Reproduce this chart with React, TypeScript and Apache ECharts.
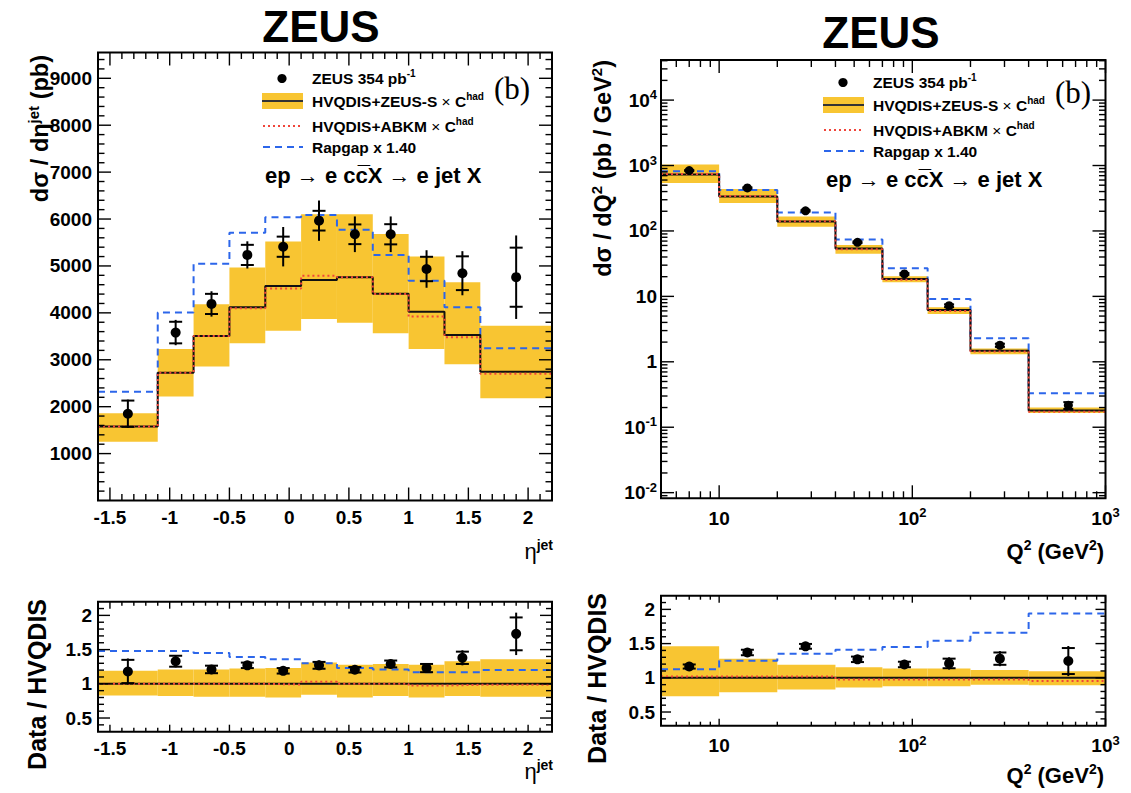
import React, { useEffect, useRef } from 'react';
import * as echarts from 'echarts';

// ---------- eta^jet panel data ----------
const ETA_EDGES = [-1.6, -1.1, -0.8, -0.5, -0.2, 0.1, 0.4, 0.7, 1.0, 1.3, 1.6, 2.2];
const ETA_CENTERS = [-1.35, -0.95, -0.65, -0.35, -0.05, 0.25, 0.55, 0.85, 1.15, 1.45, 1.9];
const ETA_DATA = [1850, 3580, 4190, 5235, 5410, 5965, 5675, 5675, 4935, 4845, 4760];
const ETA_STAT = [280, 230, 215, 215, 215, 210, 210, 215, 260, 360, 630];
const ETA_TOT = [300, 270, 270, 290, 420, 430, 380, 380, 400, 470, 890];
const ETA_ZEUSS = [1575, 2725, 3505, 4120, 4575, 4700, 4760, 4405, 4025, 3530, 2745];
const ETA_ABKM = [1580, 2725, 3505, 4100, 4520, 4790, 4760, 4400, 3920, 3480, 2700];
const ETA_BAND_LO = [1255, 2215, 2855, 3350, 3620, 3870, 3790, 3565, 3230, 2905, 2180];
const ETA_BAND_HI = [1860, 3230, 4185, 4965, 5520, 6100, 6100, 5680, 5200, 4650, 3725];
const ETA_RAPGAP = [2320, 4005, 5045, 5710, 6040, 6085, 5770, 5235, 4685, 4120, 3245];

// ratio (eta)
const ETA_R_DATA = [1.18, 1.33, 1.21, 1.27, 1.19, 1.27, 1.205, 1.29, 1.23, 1.38, 1.73];
const ETA_R_STAT = [0.17, 0.08, 0.055, 0.04, 0.04, 0.05, 0.04, 0.05, 0.06, 0.09, 0.24];
const ETA_R_TOT = [0.19, 0.09, 0.06, 0.045, 0.05, 0.07, 0.05, 0.06, 0.07, 0.11, 0.31];
const ETA_R_BAND_LO = [0.83, 0.82, 0.81, 0.81, 0.80, 0.84, 0.80, 0.82, 0.80, 0.82, 0.81];
const ETA_R_BAND_HI = [1.19, 1.21, 1.21, 1.225, 1.23, 1.31, 1.28, 1.29, 1.28, 1.33, 1.36];
const ETA_R_ZEUSS = [1, 1, 1, 1, 1, 1, 1, 1, 1, 1, 1];
const ETA_R_ABKM = [1.0, 1.0, 1.0, 1.0, 0.99, 1.03, 1.0, 1.0, 0.975, 0.985, 0.985];
const ETA_R_RAPGAP = [1.48, 1.48, 1.45, 1.39, 1.36, 1.30, 1.23, 1.21, 1.17, 1.17, 1.20];

// ---------- Q^2 panel data ----------
const Q2_EDGES = [5, 10, 20, 40, 70, 120, 200, 400, 1000];
const Q2_CENTERS = [7, 14, 28, 52, 91, 155, 284, 642];
const Q2_DATA = [838, 454, 203, 67, 22, 7.2, 1.79, 0.216];
const Q2_STAT = [15, 10, 5, 1.8, 0.7, 0.35, 0.1, 0.026];
const Q2_TOT = [30, 22, 8, 3, 1.1, 0.55, 0.18, 0.03];
const Q2_ZEUSS = [728, 337, 139, 54, 18.5, 6.2, 1.48, 0.18];
const Q2_ABKM = [740, 343, 141, 52.5, 18, 6.0, 1.44, 0.172];
const Q2_BAND_LO = [540, 267, 116, 45, 16.4, 5.4, 1.3, 0.165];
const Q2_BAND_HI = [1035, 438, 166, 61, 20.3, 6.8, 1.6, 0.2];
const Q2_RAPGAP = [818, 423, 192, 74, 26.8, 9.1, 2.3, 0.33];

// ratio (Q^2)
const Q2_R_DATA = [1.165, 1.37, 1.46, 1.27, 1.195, 1.21, 1.28, 1.245];
const Q2_R_STAT = [0.03, 0.04, 0.035, 0.04, 0.04, 0.07, 0.09, 0.19];
const Q2_R_TOT = [0.035, 0.05, 0.04, 0.045, 0.05, 0.09, 0.11, 0.22];
const Q2_R_BAND_LO = [0.73, 0.79, 0.83, 0.86, 0.875, 0.875, 0.90, 0.89];
const Q2_R_BAND_HI = [1.46, 1.28, 1.19, 1.155, 1.135, 1.135, 1.115, 1.095];
const Q2_R_ZEUSS = [1, 1, 1, 1, 1, 1, 1, 1];
const Q2_R_ABKM = [1.02, 1.02, 1.02, 0.975, 0.975, 0.975, 0.975, 0.955];
const Q2_R_RAPGAP = [1.125, 1.25, 1.35, 1.41, 1.45, 1.54, 1.66, 1.94];

// ---------- tick labels ----------
const ETA_TICKS = [-1.5, -1, -0.5, 0, 0.5, 1, 1.5, 2];
const ETA_TICK_LABELS = ['-1.5', '-1', '-0.5', '0', '0.5', '1', '1.5', '2'];
const XS_TICKS = [1000, 2000, 3000, 4000, 5000, 6000, 7000, 8000, 9000];
const XS_TICK_LABELS = ['1000', '2000', '3000', '4000', '5000', '6000', '7000', '8000', '9000'];
const RATIO_TICKS = [0.5, 1, 1.5, 2];
const RATIO_TICK_LABELS = ['0.5', '1', '1.5', '2'];
const Q2_TICKS = [10, 100, 1000];
const Q2_TICK_LABELS = ['10', '10^2', '10^3'];
const DQ2_TICKS = [0.01, 0.1, 1, 10, 100, 1000, 10000];
const DQ2_TICK_LABELS = ['10^-2', '10^-1', '1', '10', '10^2', '10^3', '10^4'];

const FONT = "'Liberation Sans', Arial, Helvetica, sans-serif";
const YELLOW = '#f8c532';
const RED = '#f0453a';
const BLUE = '#2c66ea';
const BLACK = '#111';

// axis ranges
const ETA_RANGE = [-1.6, 2.2];
const XS_RANGE = [0, 9550];
const Q2_RANGE = [5, 1000];
const DQ2_RANGE = [0.0082, 41000];
const RATIO_RANGE = [0.3, 2.2];

function linTicks(lo: number, hi: number, step: number, majors: number[]) {
  const out: number[] = [];
  const n = Math.round((hi - lo) / step);
  for (let i = 0; i <= n; i++) {
    const v = Math.round((lo + i * step) * 1000) / 1000;
    if (v <= lo + 1e-9 || v >= hi - 1e-9) continue;
    if (majors.some((m) => Math.abs(m - v) < 1e-6)) continue;
    out.push(v);
  }
  return out;
}
function logMinor(lo: number, hi: number) {
  const out: number[] = [];
  for (let e = -3; e <= 5; e++) {
    for (let k = 2; k <= 9; k++) {
      const v = k * Math.pow(10, e);
      if (v > lo && v < hi) out.push(v);
    }
  }
  return out;
}

const toRich = (s: string) => {
  const i = s.indexOf('^');
  return i < 0 ? `{n|${s}}` : `{n|${s.slice(0, i)}}{s|${s.slice(i + 1)}}`;
};

const labelRich = {
  n: { fontSize: 19, fontWeight: 'bold', fontFamily: FONT, color: '#000', lineHeight: 24 },
  s: { fontSize: 13, fontWeight: 'bold', fontFamily: FONT, color: '#000', lineHeight: 12, verticalAlign: 'top' },
};

function axisLabel(ticks: number[], labels: string[], margin: number, isLog = false) {
  return {
    customValues: ticks,
    showMinLabel: true,
    showMaxLabel: true,
    margin,
    formatter: (v: number) => {
      const i = ticks.findIndex((t) =>
        isLog ? Math.abs(Math.log10(t) - Math.log10(v)) < 1e-6 : Math.abs(t - v) < 1e-6
      );
      return i < 0 ? '' : toRich(labels[i]);
    },
    rich: labelRich,
  };
}

const hidden = {
  axisLine: { show: false },
  axisTick: { show: false },
  splitLine: { show: false },
};

function stepData(edges: number[], vals: number[]) {
  const d = vals.map((v, i) => [edges[i], v]);
  d.push([edges[edges.length - 1], vals[vals.length - 1]]);
  return d;
}

function stepSeries(gi: number, edges: number[], vals: number[], color: string, type: any, z: number) {
  return {
    type: 'line',
    xAxisIndex: gi,
    yAxisIndex: gi,
    step: 'end',
    symbol: 'none',
    data: stepData(edges, vals),
    lineStyle: { color, width: 2, type, opacity: 1 },
    z,
    silent: true,
  };
}

function bandSeries(gi: number, edges: number[], lo: number[], hi: number[]) {
  return {
    type: 'custom',
    xAxisIndex: gi,
    yAxisIndex: gi,
    z: 1,
    silent: true,
    data: lo.map((l, i) => [edges[i], edges[i + 1], l, hi[i]]),
    encode: { x: [0, 1], y: [2, 3] },
    renderItem: (_p: any, api: any) => {
      const a = api.coord([api.value(0), api.value(3)]);
      const b = api.coord([api.value(1), api.value(2)]);
      return {
        type: 'rect',
        shape: { x: a[0], y: a[1], width: b[0] - a[0], height: b[1] - a[1] },
        style: { fill: YELLOW },
      };
    },
  };
}

function errSeries(gi: number, xs: number[], ys: number[], stat: number[], tot: number[], w: number) {
  return {
    type: 'custom',
    xAxisIndex: gi,
    yAxisIndex: gi,
    z: 6,
    silent: true,
    data: xs.map((x, i) => [x, ys[i], ys[i] - tot[i], ys[i] + tot[i], ys[i] - stat[i], ys[i] + stat[i]]),
    encode: { x: 0, y: [2, 3] },
    renderItem: (_p: any, api: any) => {
      const x = api.value(0);
      const a = api.coord([x, api.value(2)]);
      const b = api.coord([x, api.value(3)]);
      const c = api.coord([x, api.value(4)]);
      const d = api.coord([x, api.value(5)]);
      const st = { stroke: '#000', lineWidth: 2 };
      return {
        type: 'group',
        children: [
          { type: 'line', shape: { x1: a[0], y1: a[1], x2: b[0], y2: b[1] }, style: st },
          { type: 'line', shape: { x1: c[0] - w, y1: c[1], x2: c[0] + w, y2: c[1] }, style: st },
          { type: 'line', shape: { x1: d[0] - w, y1: d[1], x2: d[0] + w, y2: d[1] }, style: st },
        ],
      };
    },
  };
}

function pointSeries(gi: number, xs: number[], ys: number[], size: number) {
  return {
    type: 'scatter',
    xAxisIndex: gi,
    yAxisIndex: gi,
    symbol: 'circle',
    symbolSize: size,
    itemStyle: { color: '#000', opacity: 1 },
    data: xs.map((x, i) => [x, ys[i]]),
    z: 7,
    silent: true,
  };
}

function frameSeries(
  gi: number,
  xr: number[],
  yr: number[],
  xMaj: number[],
  xMin: number[],
  yMaj: number[],
  yMin: number[],
  L: number[]
) {
  return {
    type: 'custom',
    xAxisIndex: gi,
    yAxisIndex: gi,
    z: 20,
    silent: true,
    data: [[xr[0], yr[0]]],
    renderItem: (_p: any, api: any) => {
      const bl = api.coord([xr[0], yr[0]]);
      const tr = api.coord([xr[1], yr[1]]);
      const kids: any[] = [];
      const st = { stroke: '#000', lineWidth: 1.4 };
      const ln = (x1: number, y1: number, x2: number, y2: number) =>
        kids.push({ type: 'line', shape: { x1, y1, x2, y2 }, style: st });
      const xs: [number[], number][] = [
        [xMaj, L[0]],
        [xMin, L[1]],
      ];
      xs.forEach(([vals, len]) =>
        vals.forEach((v) => {
          const x = api.coord([v, yr[0]])[0];
          ln(x, bl[1], x, bl[1] - len);
          ln(x, tr[1], x, tr[1] + len);
        })
      );
      const ys: [number[], number][] = [
        [yMaj, L[2]],
        [yMin, L[3]],
      ];
      ys.forEach(([vals, len]) =>
        vals.forEach((v) => {
          const y = api.coord([xr[0], v])[1];
          ln(bl[0], y, bl[0] + len, y);
          ln(tr[0], y, tr[0] - len, y);
        })
      );
      kids.push({
        type: 'rect',
        shape: { x: bl[0], y: tr[1], width: tr[0] - bl[0], height: bl[1] - tr[1] },
        style: { fill: 'none', stroke: '#000', lineWidth: 2 },
      });
      return { type: 'group', children: kids };
    },
  };
}

// ---------- graphic helpers ----------
function richText(size: number, supSize: number, lh: number, supLh: number, weight = 'bold') {
  return {
    n: { fontSize: size, fontWeight: weight, fontFamily: FONT, fill: '#000', lineHeight: lh },
    s: { fontSize: supSize, fontWeight: weight, fontFamily: FONT, fill: '#000', lineHeight: supLh, verticalAlign: 'top' },
    x: { fontSize: size, fontWeight: 'normal', fontFamily: FONT, fill: '#000', lineHeight: lh },
  };
}

function gtext(x: number, y: number, text: string, rich: any, align = 'left', rotation = 0) {
  return {
    type: 'text',
    x,
    y,
    rotation,
    z: 50,
    silent: true,
    style: {
      text,
      rich,
      align,
      textAlign: align,
      verticalAlign: 'middle',
      textVerticalAlign: 'middle',
    },
  };
}

function legend(ox: number, oy: number) {
  const r15 = richText(15.5, 10, 20, 9);
  return [
    { type: 'circle', shape: { cx: ox + 282, cy: oy + 78.5, r: 4.6 }, style: { fill: '#000' }, z: 50 },
    gtext(ox + 312, oy + 78.5, '{n|ZEUS 354 pb}{s|-1}', r15),
    { type: 'rect', shape: { x: ox + 262, y: oy + 93, width: 41, height: 16 }, style: { fill: YELLOW }, z: 50 },
    { type: 'line', shape: { x1: ox + 262, y1: oy + 101, x2: ox + 303, y2: oy + 101 }, style: { stroke: '#333', lineWidth: 2 }, z: 51 },
    gtext(ox + 312, oy + 101, '{n|HVQDIS+ZEUS-S }{x|×}{n| C}{s|had}', r15),
    { type: 'line', shape: { x1: ox + 263, y1: oy + 126, x2: ox + 303, y2: oy + 126 }, style: { stroke: RED, lineWidth: 2, lineDash: [2, 3] }, z: 50 },
    gtext(ox + 312, oy + 126, '{n|HVQDIS+ABKM }{x|×}{n| C}{s|had}', r15),
    { type: 'line', shape: { x1: ox + 263, y1: oy + 147, x2: ox + 303, y2: oy + 147 }, style: { stroke: BLUE, lineWidth: 2, lineDash: [7, 5] }, z: 50 },
    gtext(ox + 312, oy + 147, '{n|Rapgap x 1.40}', r15),
    {
      type: 'text',
      x: ox + 512,
      y: oy + 88,
      z: 50,
      silent: true,
      style: {
        text: '(b)',
        fontSize: 31,
        fontFamily: "'Liberation Serif', 'DejaVu Serif', serif",
        fill: '#000',
        align: 'center',
        textAlign: 'center',
        verticalAlign: 'middle',
        textVerticalAlign: 'middle',
      },
    },
    {
      type: 'text',
      x: ox + 265,
      y: oy + 175,
      z: 50,
      silent: true,
      style: {
        text: 'ep \u2192 e cc\u0305X \u2192 e jet X',
        fontSize: 22,
        fontWeight: 'bold',
        fontFamily: FONT,
        fill: '#000',
        align: 'left',
        textAlign: 'left',
        verticalAlign: 'middle',
        textVerticalAlign: 'middle',
      },
    },
  ];
}

function buildOption() {
  const rTitle = richText(23.5, 15, 28, 12);
  const rData = richText(25, 15, 28, 12);
  const rAxis = richText(22, 14, 26, 11);
  const rZeus = { n: { fontSize: 44, fontWeight: 'bold', fontFamily: FONT, fill: '#000', lineHeight: 50 } };

  const graphic: any[] = [
    gtext(321, 26, '{n|ZEUS}', rZeus, 'center'),
    gtext(881, 32.5, '{n|ZEUS}', rZeus, 'center'),
    gtext(40, 55, '{n|d\u03c3 / d\u03b7}{s|jet}{n| (pb)}', rTitle, 'right', Math.PI / 2),
    gtext(603, 60, '{n|d\u03c3 / dQ}{s|2}{n| (pb / GeV}{s|2}{n|)}', rTitle, 'right', Math.PI / 2),
    gtext(37, 599, '{n|Data / HVQDIS}', rData, 'right', Math.PI / 2),
    gtext(597, 593, '{n|Data / HVQDIS}', rData, 'right', Math.PI / 2),
    gtext(553, 551, '{x|\u03b7}{s|jet}', rAxis, 'right'),
    gtext(1104, 551, '{n|Q}{s|2}{n| (GeV}{s|2}{n|)}', rAxis, 'right'),
    gtext(553, 771, '{x|\u03b7}{s|jet}', rAxis, 'right'),
    gtext(1104, 775, '{n|Q}{s|2}{n| (GeV}{s|2}{n|)}', rAxis, 'right'),
    ...legend(0, 0),
    ...legend(561, 4),
  ];

  const etaMinor = linTicks(ETA_RANGE[0], ETA_RANGE[1], 0.1, ETA_TICKS);
  const xsMinor = linTicks(XS_RANGE[0], XS_RANGE[1], 200, XS_TICKS);
  const ratioMinor = linTicks(RATIO_RANGE[0] - 0.1, RATIO_RANGE[1], 0.1, RATIO_TICKS).filter(
    (v) => v > RATIO_RANGE[0] + 1e-6
  );
  const q2Minor = logMinor(Q2_RANGE[0], Q2_RANGE[1]);
  const dq2Minor = logMinor(DQ2_RANGE[0], DQ2_RANGE[1]);

  const grids = [
    { left: 98, top: 52.5, width: 454, height: 448 },
    { left: 661, top: 60, width: 444.5, height: 438.3 },
    { left: 98, top: 601.7, width: 454, height: 130 },
    { left: 661, top: 595.7, width: 444.5, height: 130 },
  ].map((g) => ({ ...g, containLabel: false, outerBoundsMode: 'none', show: false }));

  const xAxis = [
    { gridIndex: 0, type: 'value', min: ETA_RANGE[0], max: ETA_RANGE[1], ...hidden, axisLabel: axisLabel(ETA_TICKS, ETA_TICK_LABELS, 5) },
    { gridIndex: 1, type: 'log', logBase: 10, min: Q2_RANGE[0], max: Q2_RANGE[1], ...hidden, axisLabel: axisLabel(Q2_TICKS, Q2_TICK_LABELS, 8, true) },
    { gridIndex: 2, type: 'value', min: ETA_RANGE[0], max: ETA_RANGE[1], ...hidden, axisLabel: axisLabel(ETA_TICKS, ETA_TICK_LABELS, 5) },
    { gridIndex: 3, type: 'log', logBase: 10, min: Q2_RANGE[0], max: Q2_RANGE[1], ...hidden, axisLabel: axisLabel(Q2_TICKS, Q2_TICK_LABELS, 8, true) },
  ];
  const yAxis = [
    { gridIndex: 0, type: 'value', min: XS_RANGE[0], max: XS_RANGE[1], ...hidden, axisLabel: axisLabel(XS_TICKS, XS_TICK_LABELS, 6) },
    { gridIndex: 1, type: 'log', logBase: 10, min: DQ2_RANGE[0], max: DQ2_RANGE[1], ...hidden, axisLabel: axisLabel(DQ2_TICKS, DQ2_TICK_LABELS, 4, true) },
    { gridIndex: 2, type: 'value', min: RATIO_RANGE[0], max: RATIO_RANGE[1], ...hidden, axisLabel: axisLabel(RATIO_TICKS, RATIO_TICK_LABELS, 6) },
    { gridIndex: 3, type: 'value', min: RATIO_RANGE[0], max: RATIO_RANGE[1], ...hidden, axisLabel: axisLabel(RATIO_TICKS, RATIO_TICK_LABELS, 6) },
  ];

  const series: any[] = [
    // top-left
    bandSeries(0, ETA_EDGES, ETA_BAND_LO, ETA_BAND_HI),
    stepSeries(0, ETA_EDGES, ETA_RAPGAP, BLUE, [7, 5], 2),
    stepSeries(0, ETA_EDGES, ETA_ZEUSS, BLACK, 'solid', 3),
    stepSeries(0, ETA_EDGES, ETA_ABKM, RED, [2, 3], 4),
    errSeries(0, ETA_CENTERS, ETA_DATA, ETA_STAT, ETA_TOT, 6.5),
    pointSeries(0, ETA_CENTERS, ETA_DATA, 10),
    frameSeries(0, ETA_RANGE, XS_RANGE, ETA_TICKS, etaMinor, XS_TICKS, xsMinor, [13, 6.5, 13, 6.5]),
    // top-right
    bandSeries(1, Q2_EDGES, Q2_BAND_LO, Q2_BAND_HI),
    stepSeries(1, Q2_EDGES, Q2_RAPGAP, BLUE, [7, 5], 2),
    stepSeries(1, Q2_EDGES, Q2_ZEUSS, BLACK, 'solid', 3),
    stepSeries(1, Q2_EDGES, Q2_ABKM, RED, [2, 3], 4),
    errSeries(1, Q2_CENTERS, Q2_DATA, Q2_STAT, Q2_TOT, 5),
    pointSeries(1, Q2_CENTERS, Q2_DATA, 9),
    frameSeries(1, Q2_RANGE, DQ2_RANGE, Q2_TICKS, q2Minor, DQ2_TICKS, dq2Minor, [13, 7, 13, 6.5]),
    // bottom-left
    bandSeries(2, ETA_EDGES, ETA_R_BAND_LO, ETA_R_BAND_HI),
    stepSeries(2, ETA_EDGES, ETA_R_RAPGAP, BLUE, [7, 5], 2),
    stepSeries(2, ETA_EDGES, ETA_R_ZEUSS, BLACK, 'solid', 3),
    stepSeries(2, ETA_EDGES, ETA_R_ABKM, RED, [2, 3], 4),
    errSeries(2, ETA_CENTERS, ETA_R_DATA, ETA_R_STAT, ETA_R_TOT, 6.5),
    pointSeries(2, ETA_CENTERS, ETA_R_DATA, 10),
    frameSeries(2, ETA_RANGE, RATIO_RANGE, ETA_TICKS, etaMinor, RATIO_TICKS, ratioMinor, [7, 4, 12, 6]),
    // bottom-right
    bandSeries(3, Q2_EDGES, Q2_R_BAND_LO, Q2_R_BAND_HI),
    stepSeries(3, Q2_EDGES, Q2_R_RAPGAP, BLUE, [7, 5], 2),
    stepSeries(3, Q2_EDGES, Q2_R_ZEUSS, BLACK, 'solid', 3),
    stepSeries(3, Q2_EDGES, Q2_R_ABKM, RED, [2, 3], 4),
    errSeries(3, Q2_CENTERS, Q2_R_DATA, Q2_R_STAT, Q2_R_TOT, 6.5),
    pointSeries(3, Q2_CENTERS, Q2_R_DATA, 10),
    frameSeries(3, Q2_RANGE, RATIO_RANGE, Q2_TICKS, q2Minor, RATIO_TICKS, ratioMinor, [7, 4, 10, 5]),
  ];

  return {
    animation: false,
    backgroundColor: '#fff',
    textStyle: { fontFamily: FONT },
    grid: grids,
    xAxis,
    yAxis,
    series,
    graphic,
  };
}

export default function App() {
  const ref = useRef<HTMLDivElement>(null);
  useEffect(() => {
    if (!ref.current) return;
    const chart = echarts.init(ref.current, undefined, { renderer: 'svg' });
    chart.setOption(buildOption() as any);
    return () => chart.dispose();
  }, []);
  return (
    <div
      ref={ref}
      style={{ position: 'fixed', left: 0, top: 0, width: 1131, height: 793, background: '#fff' }}
    />
  );
}
